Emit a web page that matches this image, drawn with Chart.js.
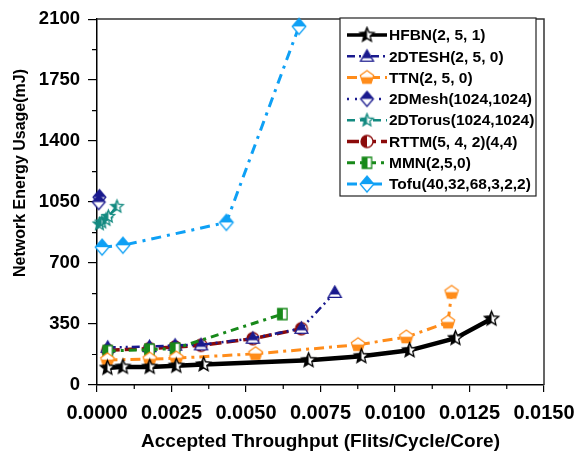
<!DOCTYPE html>
<html>
<head>
<meta charset="utf-8">
<script src="https://cdn.jsdelivr.net/npm/chart.js@4.4.1/dist/chart.umd.min.js"></script>
<style>
  body { margin: 0; background: #fff; }
  canvas { display: block; }
</style>
</head>
<body>
<canvas id="myChart" width="579" height="462"></canvas>
<script>
/* values */

let names = [
  'HFBN(2, 5, 1)',
  '2DTESH(2, 5, 0)',
  'TTN(2, 5, 0)',
  '2DMesh(1024,1024)',
  '2DTorus(1024,1024)',
  'RTTM(5, 4, 2)(4,4)',
  'MMN(2,5,0)',
  'Tofu(40,32,68,3,2,2)',
];

let hfbnX = [0.00035, 0.00087, 0.00177, 0.00266, 0.00358, 0.0071, 0.00887, 0.01049, 0.01203, 0.01324];
let hfbnY = [98, 104, 104, 110, 118, 142, 165, 199, 269, 380];

let teshX = [0.00036, 0.00176, 0.00262, 0.00349, 0.00523, 0.00686, 0.00798];
let teshY = [216, 220, 228, 230, 268, 325, 531];

let ttnX = [0.00035, 0.00177, 0.00266, 0.00532, 0.00876, 0.01038, 0.01178, 0.0119];
let ttnY = [144, 148, 154, 179, 231, 275, 360, 531];

let meshX = [0.00008, 0.00006];
let meshY = [1078, 1050];

let torusX = [0.00008, 0.00016, 0.0003, 0.00038, 0.00067];
let torusY = [924, 935, 949, 967, 1024];

let rttmX = [0.00036, 0.00176, 0.00262, 0.00349, 0.00523, 0.00686];
let rttmY = [199, 209, 218, 228, 266, 323];

let mmnX = [0.00036, 0.00176, 0.00262, 0.00622];
let mmnY = [195, 203, 209, 407];

let tofuX = [0.00017, 0.00087, 0.00434, 0.00678];
let tofuY = [791, 802, 933, 2058];

/* markers: half filled shapes like the original */
function marker(shape, color, size, half) {
  let c = document.createElement('canvas');
  let s = size + 4;
  c.width = s;
  c.height = s;
  let g = c.getContext('2d');
  let m = s / 2, R = size / 2;
  g.beginPath();
  if (shape === 'star') {
    for (let i = 0; i < 10; i++) {
      let r = i % 2 ? R * 0.45 : R;
      let a = -Math.PI / 2 + i * Math.PI / 5;
      g.lineTo(m + r * Math.cos(a), m + r * Math.sin(a));
    }
  } else if (shape === 'pentagon') {
    for (let i = 0; i < 5; i++) {
      let a = -Math.PI / 2 + i * 2 * Math.PI / 5;
      g.lineTo(m + R * Math.cos(a), m + R * Math.sin(a));
    }
  } else if (shape === 'triangle') {
    g.moveTo(m, m - R);
    g.lineTo(m + R, m + R * 0.75);
    g.lineTo(m - R, m + R * 0.75);
  } else if (shape === 'diamond') {
    g.moveTo(m, m - R);
    g.lineTo(m + R * 0.85, m);
    g.lineTo(m, m + R);
    g.lineTo(m - R * 0.85, m);
  } else if (shape === 'circle') {
    g.arc(m, m, R, 0, Math.PI * 2);
  } else {
    g.rect(m - R * 0.85, m - R, R * 1.7, R * 2);
  }
  g.closePath();
  g.fillStyle = '#fff';
  g.fill();
  g.save();
  g.clip();
  g.fillStyle = color;
  if (half === 'left') g.fillRect(0, 0, m, s);
  if (half === 'square') g.fillRect(0, 0, m + 0.5, s);
  if (half === 'top') g.fillRect(0, 0, s, m);
  if (half === 'tri') g.fillRect(0, 0, s, m + R * 0.3);
  if (half === 'bottom') g.fillRect(0, m - R * 0.05, s, s);
  g.restore();
  g.lineWidth = 1.3;
  g.strokeStyle = color;
  g.stroke();
  return c;
}

let black = '#000000';
let navy = '#1a1a8e';
let orange = '#ff8c1a';
let teal = '#138a80';
let darkred = '#8b0a0a';
let green = '#18891a';
let skyblue = '#0ea0f5';

let pts = (xs, ys) => xs.map((x, i) => ({ x: x, y: ys[i] }));

let series = [
  { data: pts(hfbnX, hfbnY), color: black, width: 4.5, dash: [], pt: marker('star', black, 15, 'left'), order: 0 },
  { data: pts(teshX, teshY), color: navy, width: 2.5, dash: [8, 4, 2, 4, 2, 4], pt: marker('triangle', navy, 13, 'tri'), order: 3 },
  { data: pts(ttnX, ttnY), color: orange, width: 3, dash: [10, 5, 3, 5], pt: marker('pentagon', orange, 14, 'bottom'), order: 1 },
  { data: pts(meshX, meshY), color: navy, width: 2.5, dash: [2, 6], pt: marker('diamond', navy, 15, 'top'), order: 5 },
  { data: pts(torusX, torusY), color: teal, width: 2.5, dash: [8, 5], pt: marker('star', teal, 13, 'left'), order: 6 },
  { data: pts(rttmX, rttmY), color: darkred, width: 3.5, dash: [12, 5], pt: marker('circle', darkred, 12, 'left'), order: 4 },
  { data: pts(mmnX, mmnY), color: green, width: 3, dash: [8, 5, 3, 5], pt: marker('square', green, 11, 'square'), order: 2 },
  { data: pts(tofuX, tofuY), color: skyblue, width: 3, dash: [10, 6, 3, 6], pt: marker('diamond', skyblue, 16, 'top'), order: 7 },
];

let font = 'Liberation Sans, Arial, sans-serif';

/* box round the plot and the small ticks */
let framePlugin = {
  id: 'frame',
  beforeDatasetsDraw(chart) {
    let a = chart.chartArea, ctx = chart.ctx;
    ctx.save();
    ctx.strokeStyle = '#333';
    ctx.lineWidth = 1.5;
    ctx.beginPath();
    ctx.moveTo(a.left, a.top);
    ctx.lineTo(a.right, a.top);
    ctx.lineTo(a.right, a.bottom);
    ctx.stroke();
    // minor ticks
    let xs = chart.scales.x, ys = chart.scales.y;
    ctx.strokeStyle = '#000';
    ctx.lineWidth = 1.2;
    ctx.beginPath();
    for (let v = 0.00125; v < 0.015; v += 0.0025) {
      let px = xs.getPixelForValue(v);
      ctx.moveTo(px, a.bottom);
      ctx.lineTo(px, a.bottom + 4);
    }
    for (let v = 175; v < 2100; v += 350) {
      let py = ys.getPixelForValue(v);
      ctx.moveTo(a.left, py);
      ctx.lineTo(a.left - 5, py);
    }
    ctx.stroke();
    ctx.restore();
  },
  afterDraw(chart) {
    let ctx = chart.ctx;
    // y axis title
    ctx.save();
    ctx.translate(21, 173);
    ctx.rotate(-Math.PI / 2);
    ctx.font = 'bold 16px ' + font;
    ctx.fillStyle = '#000';
    ctx.textAlign = 'center';
    ctx.textBaseline = 'middle';
    ctx.fillText('Network Energy Usage(mJ)', 0, 0);
    ctx.restore();

    // legend box
    let bx = 340, by = 18, bw = 196, bh = 178;
    ctx.save();
    ctx.fillStyle = '#fff';
    ctx.fillRect(bx, by, bw, bh);
    ctx.strokeStyle = '#222';
    ctx.lineWidth = 1.2;
    ctx.strokeRect(bx, by, bw, bh);
    ctx.font = 'bold 15.5px ' + font;
    ctx.textBaseline = 'middle';
    ctx.textAlign = 'left';
    chart.data.datasets.forEach((ds, i) => {
      let yy = 35 + i * 21.3;
      ctx.strokeStyle = ds.borderColor;
      ctx.lineWidth = Math.min(ds.borderWidth, 3.5);
      ctx.setLineDash(ds.borderDash);
      ctx.beginPath();
      ctx.moveTo(347, yy);
      ctx.lineTo(387, yy);
      ctx.stroke();
      ctx.setLineDash([]);
      let img = ds.pointStyle;
      ctx.drawImage(img, 367 - img.width / 2, yy - img.height / 2);
      ctx.fillStyle = '#000';
      ctx.fillText(ds.label, 389, yy + 1);
    });
    ctx.restore();
  },
};

let ctx = document.getElementById('myChart');

let myChart = new Chart(ctx, {
  type: 'line',
  data: {
    datasets: series.map((s, i) => ({
      label: names[i],
      data: s.data,
      borderColor: s.color,
      backgroundColor: s.color,
      borderWidth: s.width,
      borderDash: s.dash,
      pointStyle: s.pt,
      pointRadius: 6,
      lineTension: 0,
      fill: false,
      clip: false,
      order: s.order,
    })),
  },
  options: {
    responsive: false,
    animation: false,
    layout: { padding: { left: 0, top: 16, right: 35, bottom: 0 } },
    plugins: {
      legend: { display: false },
      tooltip: { enabled: false },
    },
    scales: {
      x: {
        type: 'linear',
        min: 0,
        max: 0.015,
        afterFit: (scale) => {
          scale.height = 77;
          scale.paddingLeft = 30;
          scale.paddingRight = 30;
        },
        ticks: {
          stepSize: 0.0025,
          padding: 9,
          color: '#000',
          font: { family: font, size: 20, weight: 'bold' },
          maxRotation: 0,
          callback: (v) => v.toFixed(4),
        },
        grid: { drawOnChartArea: false, drawTicks: true, tickLength: 7, color: '#000', lineWidth: 1.2 },
        border: { display: true, color: '#000', width: 1.5 },
        title: {
          display: true,
          text: 'Accepted Throughput (Flits/Cycle/Core)',
          color: '#000',
          font: { family: font, size: 19, weight: 'bold' },
          padding: { top: 0, bottom: 9 },
        },
      },
      y: {
        min: 0,
        max: 2100,
        afterFit: (scale) => { scale.width = 97; },
        ticks: {
          stepSize: 350,
          padding: 8,
          color: '#000',
          font: { family: font, size: 18.5, weight: 'bold' },
          callback: (v) => String(v),
        },
        grid: { drawOnChartArea: false, drawTicks: true, tickLength: 9, color: '#000', lineWidth: 1.2 },
        border: { display: true, color: '#000', width: 1.5 },
      },
    },
  },
  plugins: [framePlugin],
});
</script>
</body>
</html>
